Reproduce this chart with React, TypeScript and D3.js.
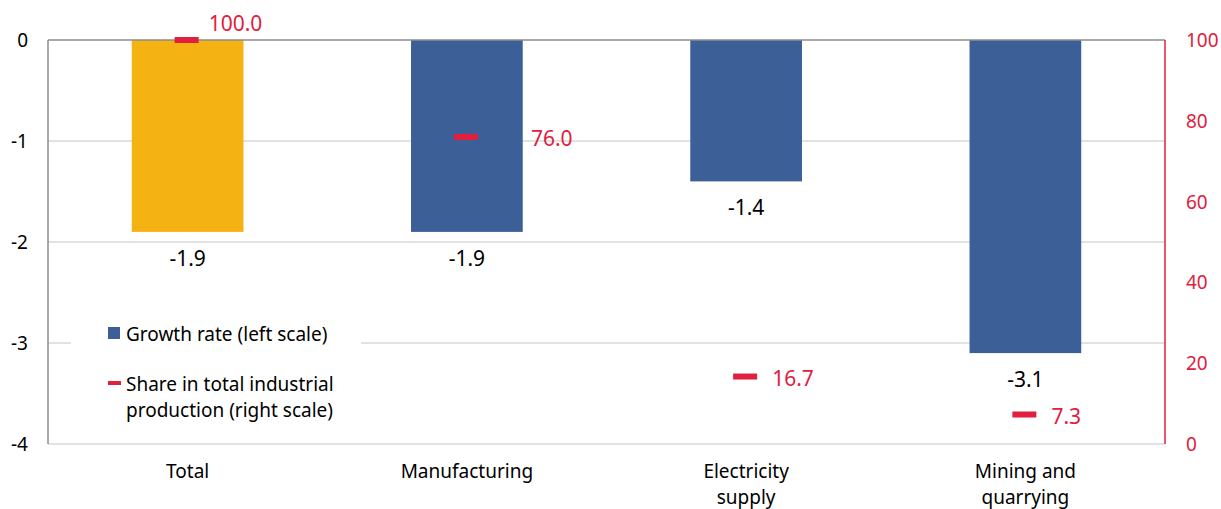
import React from "react";
import * as d3 from "d3";

const categories = ["Total", "Manufacturing", "Electricity supply", "Mining and quarrying"];
const categoryLines = [["Total"], ["Manufacturing"], ["Electricity", "supply"], ["Mining and", "quarrying"]];
const growthRate = [-1.9, -1.9, -1.4, -3.1];
const share = [100.0, 76.0, 16.7, 7.3];
const leftTicks = [0, -1, -2, -3, -4];
const rightTicks = [0, 20, 40, 60, 80, 100];

const W = 1221;
const H = 509;
const FONT = "'Noto Sans', 'Open Sans', sans-serif";
const YELLOW = "#F4B213";
const BLUE = "#3D5F97";
const RED = "#E0203E";

export default function App() {
  const left = 48, right = 1165, top = 40, bottom = 444;
  const x = d3.scaleBand<string>().domain(categories).range([left, right]).paddingInner(0.6).paddingOuter(0.3);
  const xc = (c: string) => (x(c) as number) + x.bandwidth() / 2;
  const yL = d3.scaleLinear().domain([-4, 0]).range([bottom, top]);
  const yR = d3.scaleLinear().domain([0, 100]).range([bottom, top]);

  const shareLabelPos = (i: number) => {
    if (i === 0) return { dx: 22, dy: -17 };
    if (i === 1) return { dx: 65, dy: 1 };
    return { dx: 27, dy: 1 };
  };

  return (
    <svg width={W} height={H} style={{ position: "absolute", left: 0, top: 0, background: "#fff" }} fontFamily={FONT}>
      <rect x={0} y={0} width={W} height={H} fill="#fff" />
      {leftTicks.filter((t) => t !== 0).map((t) => (
        <line key={t} x1={left} x2={right} y1={yL(t)} y2={yL(t)} stroke="#D9D9D9" strokeWidth={1.5} />
      ))}
      <rect x={71} y={305} width={290} height={118} fill="#fff" />
      {categories.map((c, i) => (
        <rect key={c} x={x(c)} y={yL(0)} width={x.bandwidth()} height={yL(growthRate[i]) - yL(0)}
          fill={i === 0 ? YELLOW : BLUE} />
      ))}
      <line x1={left} x2={right} y1={yL(0)} y2={yL(0)} stroke="#8C8C8C" strokeWidth={1.5} />
      <line x1={left} x2={left} y1={top} y2={bottom} stroke="#8C8C8C" strokeWidth={1.5} />
      <line x1={right} x2={right} y1={top} y2={bottom} stroke={RED} strokeWidth={1.5} />
      {categories.map((c, i) => (
        <text key={c} x={xc(c)} y={yL(growthRate[i]) + 26} textAnchor="middle" dominantBaseline="central"
          fontSize={21} fill="#000">{growthRate[i].toFixed(1)}</text>
      ))}
      {categories.map((c, i) => {
        const cx = xc(c) - 1;
        const cy = yR(share[i]);
        const p = shareLabelPos(i);
        return (
          <g key={c}>
            <rect x={cx - 12} y={cy - 3} width={24} height={6} fill={RED} />
            <text x={cx + p.dx} y={cy + p.dy} dominantBaseline="central" fontSize={21} fill={RED}>
              {share[i].toFixed(1)}
            </text>
          </g>
        );
      })}
      {leftTicks.map((t) => (
        <text key={t} x={28} y={yL(t)} textAnchor="end" dominantBaseline="central" fontSize={19} fill="#000">{t}</text>
      ))}
      {rightTicks.map((t) => (
        <text key={t} x={1186} y={yR(t)} dominantBaseline="central" fontSize={19} fill={RED}>{t}</text>
      ))}
      {categories.map((c, i) => (
        <text key={c} x={xc(c)} textAnchor="middle" fontSize={19} fill="#000">
          {categoryLines[i].map((l, j) => (
            <tspan key={j} x={xc(c)} y={478 + j * 26}>{l}</tspan>
          ))}
        </text>
      ))}
      <rect x={108} y={327} width={12} height={12} fill={BLUE} />
      <text x={126} y={334} dominantBaseline="central" fontSize={19} fill="#000">Growth rate (left scale)</text>
      <rect x={108} y={381} width={13} height={4} fill={RED} />
      <text x={126} y={384} dominantBaseline="central" fontSize={19} fill="#000">Share in total industrial</text>
      <text x={126} y={410} dominantBaseline="central" fontSize={19} fill="#000">production (right scale)</text>
    </svg>
  );
}
